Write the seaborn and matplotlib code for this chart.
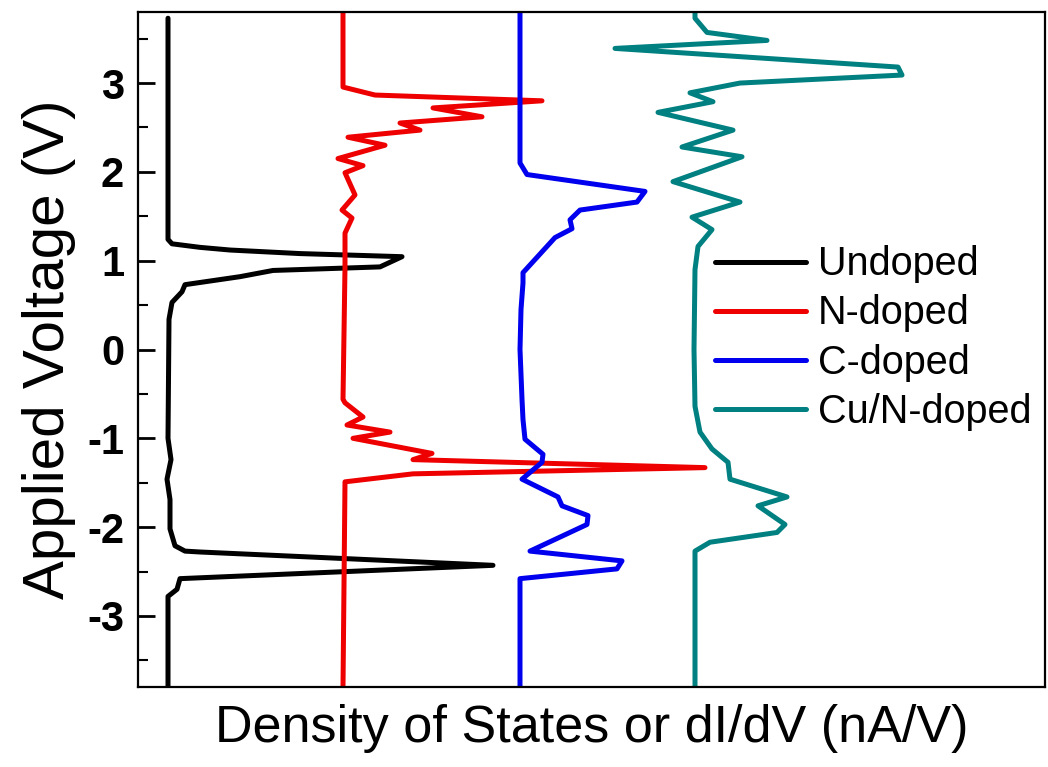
import numpy as np
import pandas as pd
import seaborn as sns
import matplotlib
matplotlib.use('Agg')
from matplotlib import pyplot as plt
from matplotlib.ticker import MultipleLocator


"""
Data read off the figure: (dI/dV, voltage) pairs per sample, in drawing order
"""
undoped_dos = [3.0, 3.0, 3.4, 6.2, 9.2, 16.2, 26.4, 24.2, 13.5, 10.2, 4.7, 4.4,
               3.4, 3.1, 3.0, 3.3, 2.9, 3.2, 3.2, 3.7, 4.7, 6.2, 35.5, 4.2,
               3.9, 3.0, 3.0]
undoped_v = [3.73, 1.24, 1.19, 1.15, 1.12, 1.08, 1.045, 0.93, 0.89, 0.82, 0.73,
             0.65, 0.53, 0.34, -1.0, -1.24, -1.46, -1.69, -2.02, -2.21, -2.27,
             -2.28, -2.43, -2.58, -2.70, -2.78, -3.80]

ndoped_dos = [20.5, 20.5, 23.7, 40.4, 29.5, 34.4, 26.2, 28.2, 21.0, 24.7, 20.0,
              22.5, 20.7, 21.7, 20.4, 21.4, 20.7, 20.7, 20.5, 20.7, 22.5, 20.9,
              25.2, 21.5, 29.4, 27.5, 56.7, 27.5, 20.7, 20.5]
ndoped_v = [3.80, 2.955, 2.865, 2.80, 2.72, 2.62, 2.55, 2.47, 2.39, 2.30, 2.15,
            2.07, 1.99, 1.74, 1.57, 1.48, 1.31, 0.93, -0.56, -0.60, -0.76, -0.85,
            -0.93, -1.00, -1.17, -1.24, -1.33, -1.40, -1.49, -3.80]

cdoped_dos = [38.2, 38.2, 38.9, 50.7, 49.9, 44.2, 43.2, 43.4, 41.7, 38.5, 38.5,
              38.3, 38.2, 38.4, 38.5, 38.7, 40.5, 40.4, 38.4, 42.0, 42.4, 45.0,
              44.9, 39.2, 48.4, 47.9, 38.2, 38.2]
cdoped_v = [3.80, 2.10, 1.97, 1.78, 1.66, 1.57, 1.46, 1.36, 1.26, 0.865, 0.75,
            0.45, 0.0, -0.56, -0.79, -1.01, -1.18, -1.27, -1.46, -1.66, -1.76,
            -1.87, -1.97, -2.27, -2.38, -2.47, -2.58, -3.80]

cundoped_dos = [55.7, 55.7, 56.9, 62.9, 47.7, 76.0, 76.4, 60.2, 55.2, 57.5,
                52.0, 59.5, 54.4, 60.4, 53.5, 60.2, 55.4, 57.4, 56.0, 55.7,
                55.6, 55.7, 56.2, 57.4, 59.0, 59.2, 64.9, 62.0, 64.7, 63.9,
                57.2, 55.7, 55.7]
cundoped_v = [3.80, 3.73, 3.57, 3.48, 3.39, 3.18, 3.09, 3.00, 2.89, 2.79, 2.67,
              2.47, 2.28, 2.17, 1.89, 1.66, 1.49, 1.35, 1.16, 0.90, 0.0, -0.64,
              -0.93, -1.12, -1.27, -1.46, -1.66, -1.76, -1.97, -2.06, -2.17,
              -2.27, -3.80]

labels = ['Undoped', 'N-doped', 'C-doped', 'Cu/N-doped']
colors = ['#000000', '#ee0000', '#0000ee', '#008080']

frames = []
for label, dos, v in zip(labels,
                         [undoped_dos, ndoped_dos, cdoped_dos, cundoped_dos],
                         [undoped_v, ndoped_v, cdoped_v, cundoped_v]):
    frames.append(pd.DataFrame({'sample': label, 'dos': dos, 'voltage': v}))
df = pd.concat(frames, ignore_index=True)


"""
Plot
"""
sns.set_style('white')
plt.rcParams['font.family'] = ['Liberation Sans', 'DejaVu Sans']
plt.rcParams['axes.unicode_minus'] = False
plt.rcParams['text.color'] = 'black'
plt.rcParams['axes.labelcolor'] = 'black'
plt.rcParams['ytick.color'] = 'black'

fig = plt.figure(figsize=(10.48, 7.67), dpi=100)
ax = fig.add_axes([138 / 1048, 80 / 767, 907 / 1048, 675 / 767])
sns.lineplot(data=df, x='dos', y='voltage', hue='sample', hue_order=labels,
             palette=colors, sort=False, estimator=None, lw=3.6, ax=ax)

ax.set_xlim(0, 90.7)
ax.set_ylim(-3.8, 3.8)
ax.set_xticks([])
ax.yaxis.set_major_locator(MultipleLocator(1))
ax.yaxis.set_minor_locator(MultipleLocator(0.5))
ax.tick_params(axis='y', which='major', direction='in', length=12, width=2,
               labelsize=30, pad=10, left=True, colors='black')
ax.tick_params(axis='y', which='minor', direction='in', length=7, width=1.5,
               left=True, colors='black')
for lab in ax.get_yticklabels():
    lab.set_fontweight('bold')
for sp in ax.spines.values():
    sp.set_linewidth(1.6)
    sp.set_color('black')

ax.set_xlabel('Density of States or dI/dV (nA/V)', fontsize=37.5, labelpad=12)
ax.set_ylabel('Applied Voltage (V)', fontsize=42, labelpad=8)

ax.legend(loc='center left', bbox_to_anchor=(0.614, 0.517), frameon=False,
          fontsize=28.5, handlelength=2.3, handletextpad=0.3,
          labelspacing=0.28, borderpad=0)
for line in ax.get_legend().get_lines():
    line.set_linewidth(3.6)

plt.savefig('out.png', dpi=100)
